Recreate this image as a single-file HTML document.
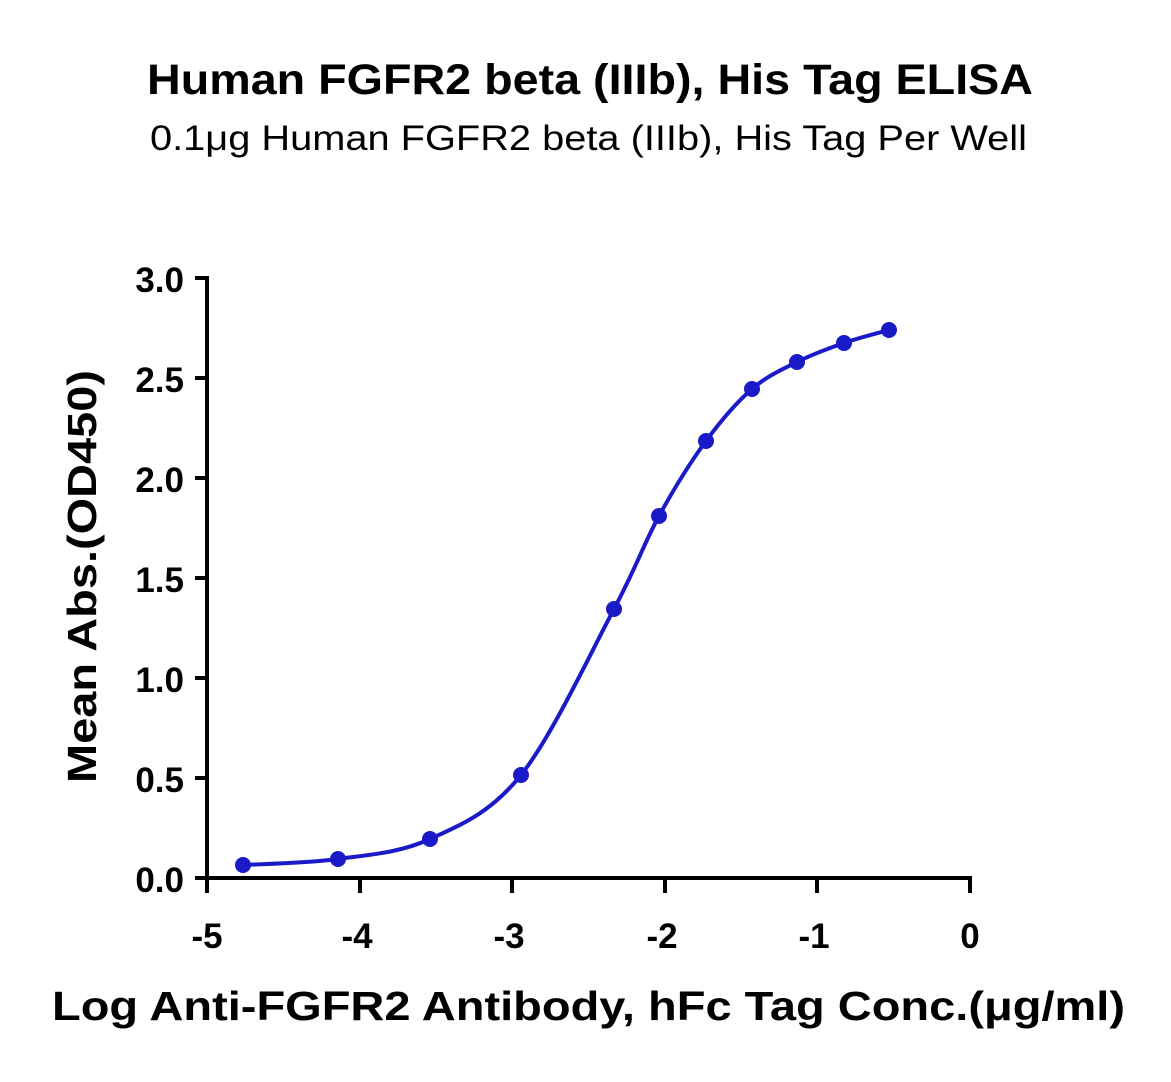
<!DOCTYPE html>
<html><head><meta charset="utf-8"><style>
html,body{margin:0;padding:0;background:#fff;}
svg text{font-family:"Liberation Sans",sans-serif;}
</style></head><body>
<svg width="1171" height="1077" viewBox="0 0 1171 1077" xmlns="http://www.w3.org/2000/svg">
<text x="147" y="94" font-size="43" font-weight="bold" textLength="886" lengthAdjust="spacingAndGlyphs">Human FGFR2 beta (IIIb), His Tag ELISA</text>
<text x="150" y="150" font-size="35" textLength="877" lengthAdjust="spacingAndGlyphs">0.1μg Human FGFR2 beta (IIIb), His Tag Per Well</text>
<g stroke="#000" stroke-width="4" fill="none">
<line x1="207" y1="276" x2="207" y2="880"/>
<line x1="205" y1="878" x2="972" y2="878"/>
<line x1="195" y1="278" x2="207" y2="278"/>
<line x1="195" y1="378" x2="207" y2="378"/>
<line x1="195" y1="478" x2="207" y2="478"/>
<line x1="195" y1="578" x2="207" y2="578"/>
<line x1="195" y1="678" x2="207" y2="678"/>
<line x1="195" y1="778" x2="207" y2="778"/>
<line x1="195" y1="878" x2="207" y2="878"/>
<line x1="207" y1="878" x2="207" y2="893"/>
<line x1="360" y1="878" x2="360" y2="893"/>
<line x1="512" y1="878" x2="512" y2="893"/>
<line x1="665" y1="878" x2="665" y2="893"/>
<line x1="817" y1="878" x2="817" y2="893"/>
<line x1="970" y1="878" x2="970" y2="893"/>
</g>
<g font-size="35" font-weight="bold" text-anchor="end">
<text x="184" y="292">3.0</text><text x="184" y="392">2.5</text><text x="184" y="492">2.0</text>
<text x="184" y="592">1.5</text><text x="184" y="692">1.0</text><text x="184" y="792">0.5</text><text x="184" y="892">0.0</text>
</g>
<g font-size="35" font-weight="bold" text-anchor="middle">
<text x="207" y="948">-5</text><text x="357" y="948">-4</text><text x="509" y="948">-3</text>
<text x="662" y="948">-2</text><text x="814" y="948">-1</text><text x="970" y="948">0</text>
</g>
<text transform="translate(96,783) rotate(-90)" font-size="41" font-weight="bold" textLength="413" lengthAdjust="spacingAndGlyphs">Mean Abs.(OD450)</text>
<text x="52" y="1020" font-size="41" font-weight="bold" textLength="1073" lengthAdjust="spacingAndGlyphs">Log Anti-FGFR2 Antibody, hFc Tag Conc.(μg/ml)</text>
<path id="c" fill="none" stroke="#1a1ac8" stroke-width="4"/>
<g id="pts" fill="#1a1ac8"></g>
</svg>
<script>
var p=[[243,865],[338,859],[430,839],[521,775],[614,609],[659,516],[706,441],[752,389],[797,362],[844,343],[889,330]];
var d="M"+p[0][0]+","+p[0][1];
for(var i=0;i<p.length-1;i++){
var p0=p[i-1]||p[i],p1=p[i],p2=p[i+1],p3=p[i+2]||p2;
var c1=[p1[0]+(p2[0]-p0[0])/6,p1[1]+(p2[1]-p0[1])/6],c2=[p2[0]-(p3[0]-p1[0])/6,p2[1]-(p3[1]-p1[1])/6];
d+=" C"+c1+" "+c2+" "+p2;}
document.getElementById("c").setAttribute("d",d);
var g=document.getElementById("pts");
p.forEach(function(q){var c=document.createElementNS("http://www.w3.org/2000/svg","circle");c.setAttribute("cx",q[0]);c.setAttribute("cy",q[1]);c.setAttribute("r",8);g.appendChild(c);});
</script>
</body></html>
